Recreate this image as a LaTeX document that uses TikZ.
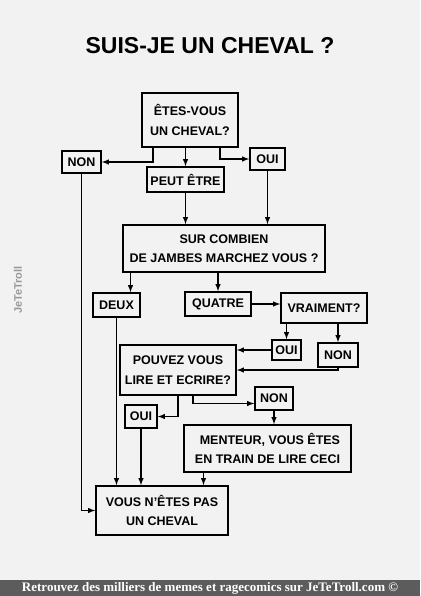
\documentclass[tikz,border=0pt]{standalone}
\usepackage{fontspec}
\setmainfont{Liberation Sans}
\newfontfamily\footfont{Liberation Serif}
\usetikzlibrary{shapes,arrows,positioning,calc}

\begin{document}
\begin{tikzpicture}[
		x=1pt, y=-1pt,
		>=latex,
		box/.style={
				draw=black,
				line width=1.6pt,
				font=\bfseries\fontsize{12.5}{19.5}\selectfont,
				align=center,
				inner sep=2pt
			},
		fleche/.style={->, line width=1.4pt}
	]
	% fond et cadre
	\useasboundingbox (0,0) rectangle (420,596);
	\fill[white!95!black] (0,0) rectangle (420,580);
	\fill[black!64] (0,580) rectangle (420,596);

	% titre
	\node[font=\bfseries\fontsize{23}{26}\selectfont] (titre) at (210,46) {SUIS-JE UN CHEVAL ?};

	% questions et reponses
	\node[box, minimum width=96pt, minimum height=54pt] (cheval) at (190,120) {ÊTES-VOUS\\UN CHEVAL?};
	\node[box, minimum width=39pt, minimum height=22pt] (non1) at (81.5,162) {NON};
	\node[box, minimum width=77pt, minimum height=25pt] (peut) at (185.5,179.5) {PEUT ÊTRE};
	\node[box, minimum width=35pt, minimum height=22pt] (oui1) at (267.5,159) {OUI};
	\node[box, minimum width=202pt, minimum height=47pt] (jambes) at (224,248.5) {SUR COMBIEN\\DE JAMBES MARCHEZ VOUS ?};
	\node[box, minimum width=47pt, minimum height=24pt] (deux) at (116.5,305) {DEUX};
	\node[box, minimum width=66pt, minimum height=24pt] (quatre) at (218,304) {QUATRE};
	\node[box, minimum width=86pt, minimum height=30pt] (vraiment) at (324,308) {VRAIMENT?};
	\node[box, minimum width=29pt, minimum height=20pt] (oui2) at (286.5,350) {OUI};
	\node[box, minimum width=40pt, minimum height=24pt] (non2) at (338,355) {NON};
	\node[box, minimum width=116pt, minimum height=50pt] (lire) at (178,370) {POUVEZ VOUS\\LIRE ET ECRIRE?};
	\node[box, minimum width=32pt, minimum height=23pt] (oui3) at (141,416.5) {OUI};
	\node[box, minimum width=38pt, minimum height=23pt] (non3) at (274,398.5) {NON};
	\node[box, minimum width=167pt, minimum height=47pt, align=right] (menteur) at (267.5,448.5) {MENTEUR, VOUS ÊTES\\EN TRAIN DE LIRE CECI};
	\node[box, minimum width=132pt, minimum height=49pt] (pascheval) at (162,510.5) {VOUS N'ÊTES PAS\\UN CHEVAL};

	% fleches
	\draw[fleche] ([xshift=-37pt]cheval.south) |- (non1.east);
	\draw[fleche] (peut.north |- cheval.south) -- (peut.north);
	\draw[fleche] ([xshift=30pt]cheval.south) |- (oui1.west);
	\draw[fleche] (non1.south) |- (pascheval.west);
	\draw[fleche] (peut.south) -- (peut.south |- jambes.north);
	\draw[fleche] (oui1.south) -- (oui1.south |- jambes.north);
	\draw[fleche] ([xshift=14pt]deux.north |- jambes.south) -- ([xshift=14pt]deux.north);
	\draw[fleche] (quatre.north |- jambes.south) -- (quatre.north);
	\draw[fleche] (quatre.east) -- (quatre.east -| vraiment.west);
	\draw[fleche] (oui2.north |- vraiment.south) -- (oui2.north);
	\draw[fleche] (non2.north |- vraiment.south) -- (non2.north);
	\draw[fleche] (oui2.west) -- (oui2.west -| lire.east);
	\draw[fleche] (non2.south) |- (lire.east);
	\draw[fleche] (lire.south) |- (oui3.east);
	\draw[fleche] ([xshift=15pt]lire.south) |- ([yshift=-5pt]non3.west);
	\draw[fleche] (non3.south) -- (non3.south |- menteur.north);
	\draw[fleche] (deux.south) -- (deux.south |- pascheval.north);
	\draw[fleche] (oui3.south) -- (oui3.south |- pascheval.north);
	\draw[fleche] ([xshift=-64pt]menteur.south) -- ([xshift=-64pt]menteur.south |- pascheval.north);

	% marque et pied de page
	\node[rotate=90, text=black!40, font=\bfseries\fontsize{11}{11}\selectfont] (marque) at (18,290) {JeTeTroll};
	\node[text=white, font=\footfont\bfseries\fontsize{13}{15}\selectfont] (pied) at (210,588.5) {Retrouvez des milliers de memes et ragecomics sur JeTeTroll.com ©};
\end{tikzpicture}
\end{document}
